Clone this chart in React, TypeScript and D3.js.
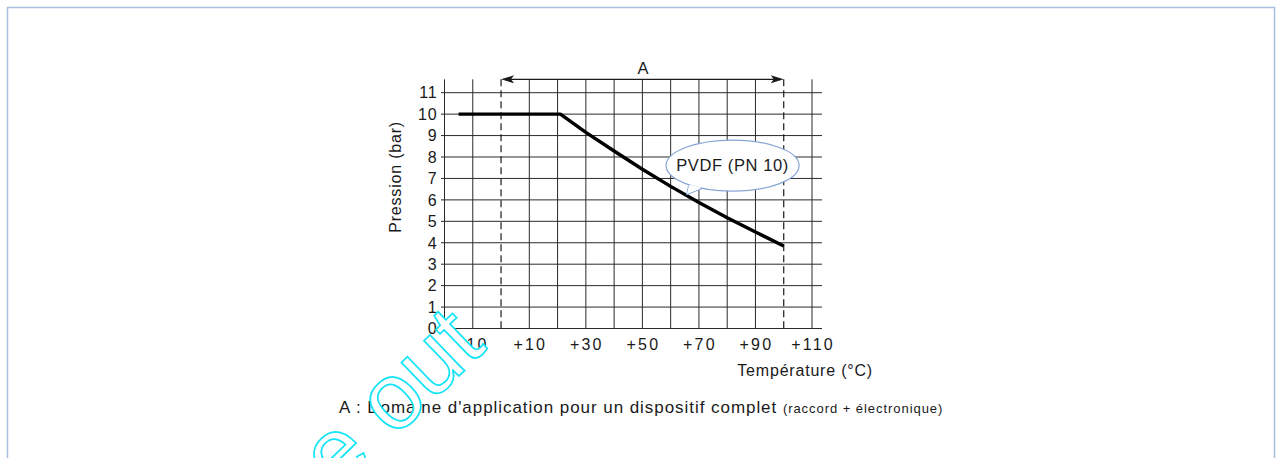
import { useEffect, useRef } from "react";
import * as d3 from "d3";

// curve
const temperatures = [-15, 21, 30, 40, 50, 60, 70, 80, 90, 100];
const pressures = [10, 10, 9.15, 8.28, 7.43, 6.63, 5.88, 5.17, 4.5, 3.85];

const xTickLabels = [-10, 10, 30, 50, 70, 90, 110];
const yTickLabels = [0, 1, 2, 3, 4, 5, 6, 7, 8, 9, 10, 11];
const gridTemps = [-10, 10, 20, 30, 40, 50, 60, 70, 80, 90, 110];
const rangeA = [0, 100];

const W = 1276;
const H = 458;
const font = "'Liberation Sans', Arial, sans-serif";
const ink = "#1a1a1a";

export default function App() {
  const svgRef = useRef(null);

  useEffect(() => {
    const svg = d3.select(svgRef.current);
    svg.selectAll("*").remove();

    const x = d3.scaleLinear().domain([-20, 110]).range([444.5, 812]);
    const y = d3.scaleLinear().domain([0, 11]).range([328.5, 92.7]);
    const top = y(11) - 13.4;

    // page frame
    svg
      .append("rect")
      .attr("x", 7.5)
      .attr("y", 7.5)
      .attr("width", 1267)
      .attr("height", 500)
      .attr("fill", "none")
      .attr("stroke", "#a8c0de")
      .attr("stroke-width", 1.5);

    const g = svg.append("g");

    // horizontal grid
    g.selectAll("line.h")
      .data(yTickLabels)
      .join("line")
      .attr("x1", x(-20) - 3.5)
      .attr("x2", x(110) + 10)
      .attr("y1", (d) => y(d))
      .attr("y2", (d) => y(d))
      .attr("stroke", "#2a2a2a")
      .attr("stroke-width", 1);

    // vertical grid + y axis
    g.selectAll("line.v")
      .data([-20, ...gridTemps])
      .join("line")
      .attr("x1", (d) => x(d))
      .attr("x2", (d) => x(d))
      .attr("y1", top)
      .attr("y2", y(0))
      .attr("stroke", "#2a2a2a")
      .attr("stroke-width", 1);

    // dashed limits of zone A
    g.selectAll("line.dash")
      .data(rangeA)
      .join("line")
      .attr("x1", (d) => x(d))
      .attr("x2", (d) => x(d))
      .attr("y1", top)
      .attr("y2", y(0))
      .attr("stroke", "#1a1a1a")
      .attr("stroke-width", 1.2)
      .attr("stroke-dasharray", "7,4");

    // arrow A
    g.append("line")
      .attr("x1", x(rangeA[0]) + 4)
      .attr("x2", x(rangeA[1]) - 4)
      .attr("y1", top)
      .attr("y2", top)
      .attr("stroke", ink)
      .attr("stroke-width", 1.2);
    const head = (tip, dir) =>
      `M${tip},${top} L${tip + dir * 13},${top - 4} L${tip + dir * 10},${top} L${tip + dir * 13},${top + 4} Z`;
    g.append("path").attr("d", head(x(rangeA[0]), 1)).attr("fill", ink);
    g.append("path").attr("d", head(x(rangeA[1]), -1)).attr("fill", ink);
    g.append("text")
      .attr("x", x((rangeA[0] + rangeA[1]) / 2) + 0.5)
      .attr("y", top - 5.5)
      .attr("text-anchor", "middle")
      .attr("font-family", font)
      .attr("font-size", 16.5)
      .attr("fill", ink)
      .text("A");

    // tick labels
    g.selectAll("text.yl")
      .data(yTickLabels)
      .join("text")
      .attr("x", x(-20) - 7)
      .attr("y", (d) => y(d))
      .attr("dy", "0.36em")
      .attr("text-anchor", "end")
      .attr("font-family", font)
      .attr("font-size", 16)
      .attr("letter-spacing", 0.8)
      .attr("fill", ink)
      .text((d) => d);

    g.selectAll("text.xl")
      .data(xTickLabels)
      .join("text")
      .attr("x", (d) => x(d) + 1)
      .attr("y", y(0) + 21.5)
      .attr("text-anchor", "middle")
      .attr("font-family", font)
      .attr("font-size", 16)
      .attr("letter-spacing", 2.2)
      .attr("fill", ink)
      .text((d) => (d < 0 ? "-" + Math.abs(d) : "+" + d));

    // axis titles
    g.append("text")
      .attr("x", x(110) + 61)
      .attr("y", y(0) + 47)
      .attr("text-anchor", "end")
      .attr("font-family", font)
      .attr("font-size", 16)
      .attr("letter-spacing", 0.8)
      .attr("fill", ink)
      .text("Température (°C)");

    g.append("text")
      .attr("transform", `translate(401,${(y(0) + top) / 2 - 27}) rotate(-90)`)
      .attr("text-anchor", "middle")
      .attr("font-family", font)
      .attr("font-size", 16)
      .attr("letter-spacing", 0.8)
      .attr("fill", ink)
      .text("Pression (bar)");

    // curve
    const line = d3
      .line()
      .x((d) => x(d[0]))
      .y((d) => y(d[1]));
    g.append("path")
      .datum(temperatures.map((t, i) => [t, pressures[i]]))
      .attr("d", line)
      .attr("fill", "none")
      .attr("stroke", "#000")
      .attr("stroke-width", 3.4)
      .attr("stroke-linejoin", "round");

    // callout bubble
    const cx = x(81.9);
    const cy = y(7.6);
    const bubble = g.append("g");
    bubble
      .append("path")
      .attr("d", `M${cx - 44},${cy + 20} L${cx - 46},${cy + 29} L${cx - 30},${cy + 23}`)
      .attr("fill", "#fff")
      .attr("stroke", "#86a6d6")
      .attr("stroke-width", 1);
    bubble
      .append("ellipse")
      .attr("cx", cx)
      .attr("cy", cy)
      .attr("rx", 66.5)
      .attr("ry", 25.5)
      .attr("fill", "#fff")
      .attr("stroke", "#86a6d6")
      .attr("stroke-width", 1.2);
    bubble
      .append("path")
      .attr("d", `M${cx - 43},${cy + 19} L${cx - 45.5},${cy + 28} L${cx - 31},${cy + 22}`)
      .attr("fill", "#fff")
      .attr("stroke", "none");
    bubble
      .append("text")
      .attr("x", cx)
      .attr("y", cy + 5.5)
      .attr("text-anchor", "middle")
      .attr("font-family", font)
      .attr("font-size", 16.5)
      .attr("letter-spacing", 0.6)
      .attr("fill", ink)
      .text("PVDF (PN 10)");

    // caption
    const cap = g
      .append("text")
      .attr("x", 339)
      .attr("y", 412.5)
      .attr("font-family", font)
      .attr("fill", ink);
    cap
      .append("tspan")
      .attr("font-size", 17)
      .attr("letter-spacing", 0.95)
      .text("A : Domaine d'application pour un dispositif complet ");
    cap
      .append("tspan")
      .attr("font-size", 13)
      .attr("letter-spacing", 0.95)
      .text("(raccord + électronique)");

    // watermark
    svg
      .append("text")
      .attr("transform", "translate(488,348) rotate(-44)")
      .attr("text-anchor", "end")
      .attr("font-family", font)
      .attr("font-size", 94)
      .attr("fill", "#fff")
      .attr("stroke", "#14e4f6")
      .attr("stroke-width", 1.7)
      .text("Phase out");
  }, []);

  return (
    <svg
      ref={svgRef}
      width={W}
      height={H}
      style={{ position: "absolute", left: 0, top: 0, background: "#fff" }}
    ></svg>
  );
}
